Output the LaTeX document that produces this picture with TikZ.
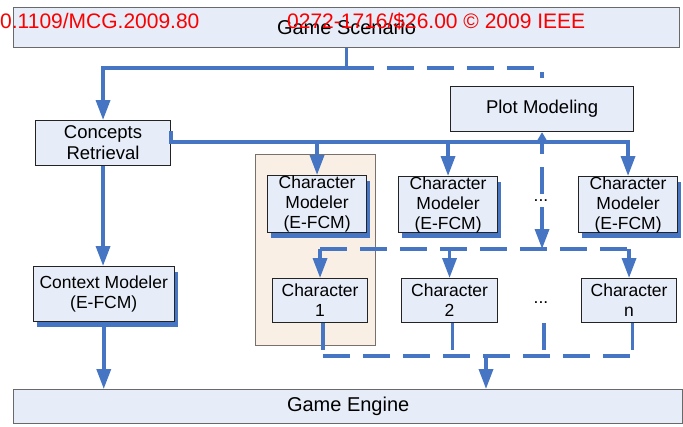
\documentclass[tikz,border=0pt]{standalone}
\usepackage{fontspec}
\setmainfont{Liberation Sans}
\usetikzlibrary{arrows.meta,shadows}

\definecolor{lineblue}{RGB}{70,117,196}
\definecolor{boxfill}{RGB}{231,237,248}
\definecolor{boxline}{RGB}{35,35,35}
\definecolor{frameline}{RGB}{105,105,105}
\definecolor{groupfill}{RGB}{250,239,228}
\definecolor{groupline}{RGB}{120,112,106}
\definecolor{notered}{RGB}{250,0,0}

\newcommand\smallboxfont{\fontsize{17.5}{20}\selectfont}
\newcommand\wideboxfont{\fontsize{20}{24}\selectfont}

\tikzset{
  blockbox/.style={draw=boxline, fill=boxfill, line width=1.1pt, inner sep=0pt,
    align=center, anchor=north west, font=\smallboxfont},
  widebox/.style={blockbox, draw=frameline, line width=1.3pt, font=\wideboxfont},
  shadowed/.style={drop shadow={fill=lineblue, opacity=1,
    shadow xshift=3.5pt, shadow yshift=-5.5pt}},
  groupbox/.style={draw=groupline, fill=groupfill, line width=1.1pt, inner sep=0pt,
    anchor=north west},
  flow/.style={draw=lineblue, line width=3.5pt},
  dflow/.style={flow, dash pattern=on 27pt off 13pt},
  tip/.style={-{Triangle[length=20pt,width=14pt]}},
  smalltip/.style={-{Triangle[length=11pt,width=12pt]}},
  note/.style={text=notered, font=\fontsize{21}{25}\selectfont, inner sep=0pt, anchor=base west},
  dotsnode/.style={inner sep=0pt, font=\smallboxfont}
}

\begin{document}
\begin{tikzpicture}[x=1pt, y=-1pt]
\useasboundingbox (0,0) rectangle (683,426);

% group frame behind the first character pair
\node[groupbox, minimum width=120pt, minimum height=191pt] (grp) at (255,154) {};

% blocks
\node[widebox, minimum width=666.3pt, minimum height=40pt] (gs) at (12.7,7) {Game Scenario};
\node[blockbox, font=\fontsize{18.5}{21}\selectfont, minimum width=135pt, minimum height=45pt] (cr) at (35,120) {Concepts\\Retrieval};
\node[blockbox, font=\fontsize{18.5}{22}\selectfont, minimum width=183pt, minimum height=45pt] (pm) at (450,86) {Plot Modeling};
\node[blockbox, shadowed, minimum width=141pt, minimum height=55pt] (ctx) at (32.7,266) {Context Modeler\\(E-FCM)};

\node[blockbox, shadowed, minimum width=99pt, minimum height=57pt] (mc1) at (267,175) {Character\\Modeler\\(E-FCM)};
\node[blockbox, shadowed, minimum width=99pt, minimum height=56pt] (mc2) at (398,176) {Character\\Modeler\\(E-FCM)};
\node[blockbox, shadowed, minimum width=99pt, minimum height=56pt] (mcn) at (578,176) {Character\\Modeler\\(E-FCM)};

\node[blockbox, minimum width=95pt, minimum height=44pt] (ch1) at (272,278) {Character\\1};
\node[blockbox, minimum width=96pt, minimum height=44pt] (ch2) at (401,278) {Character\\2};
\node[blockbox, minimum width=95pt, minimum height=44pt] (chn) at (581,278) {Character\\n};

\node[dotsnode] (dots1) at (541,201) {...};
\node[dotsnode] (dots2) at (541,303) {...};

\node[widebox, minimum width=669pt, minimum height=34pt] (ge) at (13,389) {Game Engine};

% levels of the horizontal runs
\coordinate (ytop) at (0,68);
\coordinate (ybus) at (0,142);
\coordinate (ymid) at (0,249);
\coordinate (ylow) at (0,356);
\coordinate (crout) at ([yshift=12pt]cr.east);
\coordinate (dcol) at (544,323);
\coordinate (gein) at (486,356);

% scenario to retrieval and plot
\draw[flow, tip] (gs.south) -- (gs.south |- ytop) -| (cr.north);
\draw[dflow] (gs.south |- ytop) -| ([yshift=8pt]pm.north);

% concept bus to the character modelers and the plot
\draw[flow, tip] (crout) |- (mcn.north |- ybus) -- (mcn.north);
\draw[flow, tip] (mc1.north |- ybus) -- (mc1.north);
\draw[flow, tip] (mc2.north |- ybus) -- (mc2.north);
\draw[flow, smalltip] (pm.south |- ybus) -- (pm.south);

% retrieval down to the context modeler and the engine
\draw[flow, tip] (cr.south) -- (cr.south |- ctx.north);
\draw[flow, tip] (ctx.south) -- (ctx.south |- ge.north);

% plot modeling feeds the characters
\draw[dflow, dash phase=15pt, tip] (pm.south |- ybus) -- (pm.south |- ymid);
\draw[dflow] (ch1.north |- ymid) -- (chn.north |- ymid);
\draw[dflow, tip] (ch1.north |- ymid) -- (ch1.north);
\draw[dflow, tip] (ch2.north |- ymid) -- (ch2.north);
\draw[dflow, tip] (chn.north |- ymid) -- (chn.north);

% characters gathered into the engine
\draw[dflow] ([xshift=3pt]ch1.south) -- ([xshift=3pt]ch1.south |- ylow);
\draw[dflow] ([xshift=3pt]ch2.south) -- ([xshift=3pt]ch2.south |- ylow);
\draw[dflow] (dcol) -- (dcol |- ylow);
\draw[dflow] ([xshift=3.5pt]chn.south) -- ([xshift=3.5pt]chn.south |- ylow);
\draw[dflow] ([xshift=3pt]ch1.south |- ylow) -- ([xshift=3.5pt]chn.south |- ylow);
\draw[flow, tip] (gein) -- (gein |- ge.north);

% publication stamp printed over the top
\node[note] (doi) at (0,28) {0.1109/MCG.2009.80};
\node[note] (issn) at (287,28) {0272-1716/\$26.00 © 2009 IEEE};
\end{tikzpicture}
\end{document}
